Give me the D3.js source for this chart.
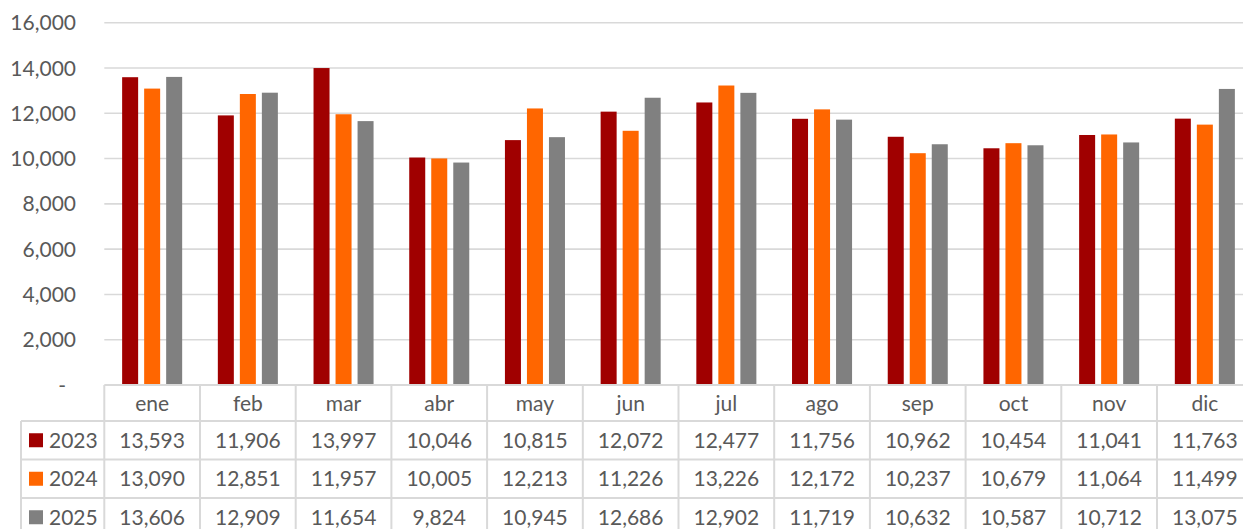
<!DOCTYPE html>
<html>
<head>
<meta charset="utf-8">
<script src="https://cdn.jsdelivr.net/npm/d3@7"></script>
<style>
  html, body { margin: 0; padding: 0; background: #fff; }
  svg { display: block; }
  text { font-family: Lato, "Open Sans", sans-serif; fill: #595959; }
</style>
</head>
<body>
<svg id="chart" width="1243" height="529"></svg>
<script>
// Monthly values per year
const months = ["ene", "feb", "mar", "abr", "may", "jun", "jul", "ago", "sep", "oct", "nov", "dic"];
const years = ["2023", "2024", "2025"];
const values2023 = [13593, 11906, 13997, 10046, 10815, 12072, 12477, 11756, 10962, 10454, 11041, 11763];
const values2024 = [13090, 12851, 11957, 10005, 12213, 11226, 13226, 12172, 10237, 10679, 11064, 11499];
const values2025 = [13606, 12909, 11654, 9824, 10945, 12686, 12902, 11719, 10632, 10587, 10712, 13075];
const yTicks = [0, 2000, 4000, 6000, 8000, 10000, 12000, 14000, 16000];
const colors = ["#a00000", "#ff6600", "#808080"];

const seriesValues = [values2023, values2024, values2025];

const svg = d3.select("#chart");
const plotLeft = 104.3, colW = 95.7;
const plotTop = 22.7, plotBottom = 385;
const gridColor = "#d9d9d9";

const x = d3.scaleBand().domain(months).range([plotLeft, plotLeft + colW * months.length]).padding(0);
const xs = d3.scaleBand().domain(years).range([0, colW]).paddingInner(0.273).paddingOuter(0.81);
const y = d3.scaleLinear().domain([0, 16000]).range([plotBottom, plotTop]);

// Horizontal gridlines
svg.append("g").selectAll("line").data(yTicks.filter(t => t > 0)).join("line")
  .attr("x1", plotLeft).attr("x2", 1243)
  .attr("y1", d => y(d)).attr("y2", d => y(d))
  .attr("stroke", gridColor).attr("stroke-width", 1.6);

// Y axis labels
const fmt = d3.format(",");
svg.append("g").selectAll("text").data(yTicks).join("text")
  .attr("x", d => d === 0 ? 66 : 76)
  .attr("y", d => y(d))
  .attr("dy", "0.36em")
  .attr("text-anchor", "end")
  .attr("font-size", 21)
  .text(d => d === 0 ? "-" : fmt(d));

// Bars
const barG = svg.append("g");
seriesValues.forEach((vals, si) => {
  barG.append("g").selectAll("rect").data(vals).join("rect")
    .attr("x", (d, i) => x(months[i]) + xs(years[si]))
    .attr("width", xs.bandwidth())
    .attr("y", d => y(d))
    .attr("height", d => y(0) - y(d))
    .attr("fill", colors[si]);
});

// Data table below the plot
const rowTops = [385, 421, 459.5, 498, 536.5];
const tableLeft = 21;
const tg = svg.append("g");
const line = (x1, y1, x2, y2) => tg.append("line")
  .attr("x1", x1).attr("y1", y1).attr("x2", x2).attr("y2", y2)
  .attr("stroke", gridColor).attr("stroke-width", 2);

// horizontal rules
line(plotLeft, rowTops[0], 1243, rowTops[0]);
for (let r = 1; r < rowTops.length; r++) line(tableLeft, rowTops[r], 1243, rowTops[r]);
// vertical rules
line(tableLeft, rowTops[1], tableLeft, rowTops[4]);
months.forEach(m => line(x(m), rowTops[0], x(m), rowTops[4]));

// header: month names
tg.append("g").selectAll("text").data(months).join("text")
  .attr("x", d => x(d) + colW / 2)
  .attr("y", (rowTops[0] + rowTops[1]) / 2)
  .attr("dy", "0.36em")
  .attr("text-anchor", "middle")
  .attr("font-size", 21)
  .text(d => d);

// rows: legend key + values
years.forEach((yr, si) => {
  const cy = (rowTops[si + 1] + rowTops[si + 2]) / 2;
  tg.append("rect").attr("x", 29).attr("y", cy - 7).attr("width", 14).attr("height", 14).attr("fill", colors[si]);
  tg.append("text").attr("x", 49).attr("y", cy).attr("dy", "0.36em").attr("font-size", 21).text(yr);
  tg.append("g").selectAll("text").data(seriesValues[si]).join("text")
    .attr("x", (d, i) => x(months[i]) + colW / 2)
    .attr("y", cy)
    .attr("dy", "0.36em")
    .attr("text-anchor", "middle")
    .attr("font-size", 21)
    .text(d => fmt(d));
});
</script>
</body>
</html>
